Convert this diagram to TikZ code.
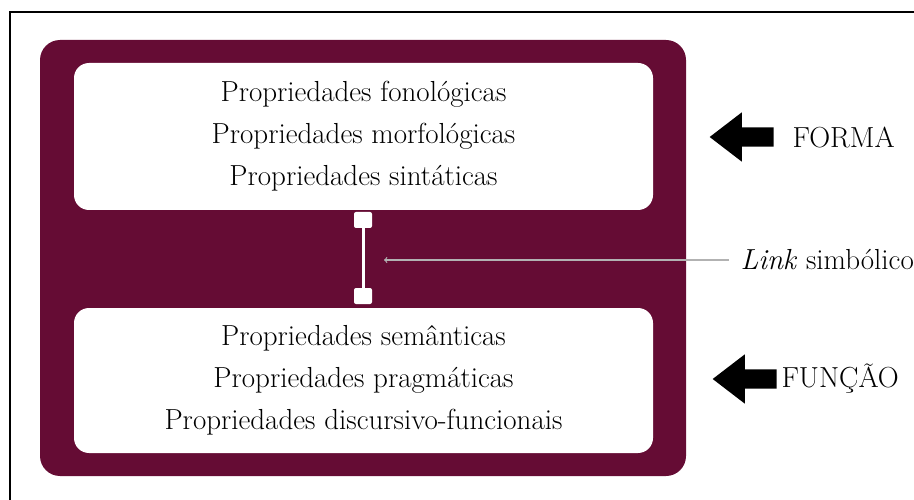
\documentclass[tikz,border=0pt]{standalone}
\usepackage{tikz}
\usetikzlibrary{arrows,shapes.arrows}
\definecolor{vinho}{RGB}{101,12,52}

\begin{document}
\begin{tikzpicture}[x=1pt, y=-1pt,
  propbox/.style={fill=white, rounded corners=15pt, align=center, minimum width=579pt,
    font=\fontsize{29}{42}\selectfont},
  bigarrow/.style={single arrow, fill=black, shape border rotate=180, inner sep=0pt,
    inner ysep=9.5pt, minimum height=64pt, single arrow head extend=15pt, single arrow tip angle=75},
  linkend/.style={fill=white, rounded corners=2pt, minimum width=18pt, minimum height=16pt, inner sep=0pt},
  sidetext/.style={font=\fontsize{29}{32}\selectfont, anchor=west}]
  \useasboundingbox (0,0) rectangle (914,500);
  \draw[line width=1.5pt] (10,12) rectangle (940,520);
  \fill[vinho, rounded corners=20pt] (40,40) rectangle (686,476);
  \node[propbox, minimum height=147pt] (forma) at (363.5,136.5)
    {Propriedades fonológicas\\ Propriedades morfológicas\\ Propriedades sintáticas};
  \node[propbox, minimum height=145pt] (funcao) at (363.5,380.5)
    {Propriedades semânticas\\ Propriedades pragmáticas\\ Propriedades discursivo-funcionais};
  % link simbolico
  \node[linkend] (top) at (363,220) {};
  \node[linkend] (bot) at (363,296) {};
  \draw[white, line width=3pt] (top) -- (bot);
  \coordinate (linktip) at (384,260);
  \node[sidetext] (link) at (737,260) {\textit{Link} simbólico};
  \draw[gray!60, line width=1.2pt, -to, shorten <=8pt] (link.west) -- (linktip);
  % forma e funcao
  \node[bigarrow] (fa) at (748,137) {};
  \node[sidetext] (formatxt) at (789,137) {FORMA};
  \node[bigarrow] (fb) at (751,379) {};
  \node[sidetext] (funcaotxt) at (778,379) {FUNÇÃO};
\end{tikzpicture}
\end{document}
